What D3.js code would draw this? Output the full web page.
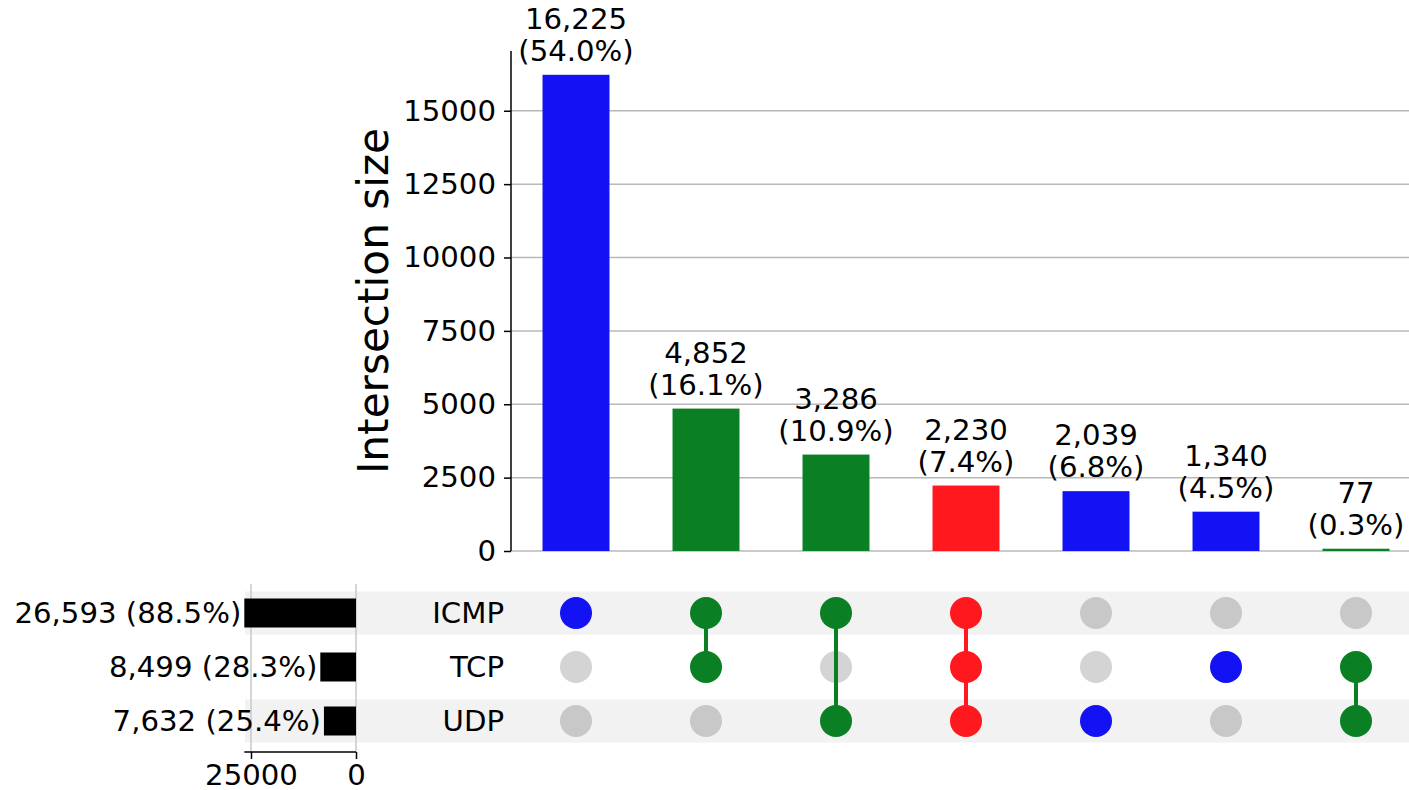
<!DOCTYPE html>
<html>
<head>
<meta charset="utf-8">
<script src="https://cdn.jsdelivr.net/npm/d3@7"></script>
<style>
  html, body { margin: 0; padding: 0; background: #fff; }
  svg { display: block; font-family: "DejaVu Sans", sans-serif; }
</style>
</head>
<body>
<svg id="chart" width="1409" height="790"></svg>
<script>
// Protocol sets and their totals
const sets = ["ICMP", "TCP", "UDP"];
const setSizes = [26593, 8499, 7632];
const setPercents = ["88.5%", "28.3%", "25.4%"];

// Intersections, in display order
const intersectionMembers = [
  ["ICMP"],
  ["ICMP", "TCP"],
  ["ICMP", "UDP"],
  ["ICMP", "TCP", "UDP"],
  ["UDP"],
  ["TCP"],
  ["TCP", "UDP"]
];
const intersectionSizes = [16225, 4852, 3286, 2230, 2039, 1340, 77];
const intersectionPercents = ["54.0%", "16.1%", "10.9%", "7.4%", "6.8%", "4.5%", "0.3%"];

const yTicks = [0, 2500, 5000, 7500, 10000, 12500, 15000];
const setTicks = [25000, 0];

// Colour by number of sets in the intersection
const degreeColors = { 1: "#1212f5", 2: "#0a7f23", 3: "#ff181e" };

const svg = d3.select("#chart");
const fontSize = 29.2;

// Layout
const barLeft = 511, barRight = 1421, barTop = 51, barBottom = 551;
const rowTop = 586, rowStep = 54;
const sizeRight = 356;

const x = d3.scaleBand()
  .domain(d3.range(intersectionSizes.length))
  .range([barLeft, barRight])
  .paddingInner(0.485)
  .paddingOuter(0.2425);

const y = d3.scaleLinear()
  .domain([0, d3.max(intersectionSizes) * 1.05])
  .range([barBottom, barTop]);

const rowY = d3.scaleBand()
  .domain(sets)
  .range([rowTop, rowTop + rowStep * sets.length]);

const sizeX = d3.scaleLinear()
  .domain([0, 25000])
  .range([sizeRight, 251]);

const cx = i => x(i) + x.bandwidth() / 2;
const cy = s => rowY(s) + rowY.bandwidth() / 2;

// ---- Intersection size bars ----
const gBars = svg.append("g");

// horizontal grid lines
gBars.selectAll("line.grid")
  .data(yTicks)
  .join("line")
  .attr("x1", barLeft).attr("x2", 1409)
  .attr("y1", d => y(d)).attr("y2", d => y(d))
  .attr("stroke", "#b8b8b8").attr("stroke-width", 1.5);

gBars.selectAll("rect")
  .data(intersectionSizes)
  .join("rect")
  .attr("x", (d, i) => x(i))
  .attr("width", x.bandwidth())
  .attr("y", d => y(d))
  .attr("height", d => barBottom - y(d))
  .attr("fill", (d, i) => degreeColors[intersectionMembers[i].length]);

// value labels above bars
const valueLabels = gBars.selectAll("text.value")
  .data(intersectionSizes)
  .join("text")
  .attr("text-anchor", "middle")
  .attr("font-size", fontSize)
  .attr("fill", "#000");
valueLabels.append("tspan")
  .attr("x", (d, i) => cx(i))
  .attr("y", d => y(d) - 46)
  .text(d => d3.format(",")(d));
valueLabels.append("tspan")
  .attr("x", (d, i) => cx(i))
  .attr("y", d => y(d) - 14)
  .text((d, i) => "(" + intersectionPercents[i] + ")");

// y axis
const yAxis = d3.axisLeft(y).tickValues(yTicks).tickSize(7).tickPadding(8).tickFormat(d3.format("d"));
const gY = svg.append("g")
  .attr("transform", `translate(${barLeft},0)`)
  .call(yAxis);
gY.select(".domain").attr("d", `M0,${barTop}V${barBottom}`).attr("stroke", "#000").attr("stroke-width", 1.5);
gY.selectAll(".tick line").attr("stroke", "#000").attr("stroke-width", 1.5);
gY.selectAll(".tick text").attr("font-size", fontSize).attr("font-family", "DejaVu Sans").attr("fill", "#000");

svg.append("text")
  .attr("transform", `translate(388,${(barTop + barBottom) / 2}) rotate(-90)`)
  .attr("text-anchor", "middle")
  .attr("font-size", 42.2)
  .attr("fill", "#000")
  .text("Intersection size");

// ---- Matrix shading ----
const gMatrix = svg.append("g");
gMatrix.selectAll("rect.band")
  .data(sets.filter((s, i) => i % 2 === 0))
  .join("rect")
  .attr("x", 245)
  .attr("width", 1409 - 245)
  .attr("y", s => cy(s) - 21.5)
  .attr("height", 43)
  .attr("fill", "#f2f2f2");

// ---- Set size bars ----
const gSizes = svg.append("g");
gSizes.selectAll("line.vgrid")
  .data(setTicks)
  .join("line")
  .attr("x1", d => sizeX(d)).attr("x2", d => sizeX(d))
  .attr("y1", 584).attr("y2", 752)
  .attr("stroke", "#c8c8c8").attr("stroke-width", 1.5);

gSizes.selectAll("rect")
  .data(setSizes)
  .join("rect")
  .attr("x", d => sizeX(d))
  .attr("width", d => sizeRight - sizeX(d))
  .attr("y", (d, i) => cy(sets[i]) - 14.5)
  .attr("height", 29)
  .attr("fill", "#000");

gSizes.selectAll("text.size")
  .data(setSizes)
  .join("text")
  .attr("x", d => sizeX(d) - 3)
  .attr("y", (d, i) => cy(sets[i]))
  .attr("dy", "0.35em")
  .attr("text-anchor", "end")
  .attr("font-size", fontSize)
  .attr("fill", "#000")
  .text((d, i) => d3.format(",")(d) + " (" + setPercents[i] + ")");

const sizeAxis = d3.axisBottom(sizeX).tickValues(setTicks).tickSize(7).tickPadding(5).tickFormat(d3.format("d"));
const gSA = svg.append("g")
  .attr("transform", "translate(0,752)")
  .call(sizeAxis);
gSA.select(".domain").attr("d", `M${sizeX(26593)},0H${sizeRight}`).attr("stroke", "#000").attr("stroke-width", 1.5);
gSA.selectAll(".tick line").attr("stroke", "#000").attr("stroke-width", 1.5);
gSA.selectAll(".tick text").attr("font-size", fontSize).attr("font-family", "DejaVu Sans").attr("fill", "#000");

// set names
svg.append("g").selectAll("text")
  .data(sets)
  .join("text")
  .attr("x", 504)
  .attr("y", s => cy(s))
  .attr("dy", "0.35em")
  .attr("text-anchor", "end")
  .attr("font-size", fontSize)
  .attr("fill", "#000")
  .text(s => s);

// ---- Matrix dots and connectors ----
const cells = [];
intersectionMembers.forEach((members, i) => {
  sets.forEach((s, j) => cells.push({ i, s, j, on: members.includes(s) }));
});

gMatrix.selectAll("circle.off")
  .data(cells.filter(c => !c.on))
  .join("circle")
  .attr("cx", c => cx(c.i))
  .attr("cy", c => cy(c.s))
  .attr("r", 16)
  .attr("fill", c => c.j % 2 === 0 ? "#c8c8c8" : "#d4d4d4");

gMatrix.selectAll("line.link")
  .data(intersectionMembers.map((m, i) => ({ m, i })).filter(d => d.m.length > 1))
  .join("line")
  .attr("x1", d => cx(d.i)).attr("x2", d => cx(d.i))
  .attr("y1", d => d3.min(d.m, cy)).attr("y2", d => d3.max(d.m, cy))
  .attr("stroke", d => degreeColors[d.m.length])
  .attr("stroke-width", 4);

gMatrix.selectAll("circle.on")
  .data(cells.filter(c => c.on))
  .join("circle")
  .attr("cx", c => cx(c.i))
  .attr("cy", c => cy(c.s))
  .attr("r", 16)
  .attr("fill", c => degreeColors[intersectionMembers[c.i].length]);
</script>
</body>
</html>
